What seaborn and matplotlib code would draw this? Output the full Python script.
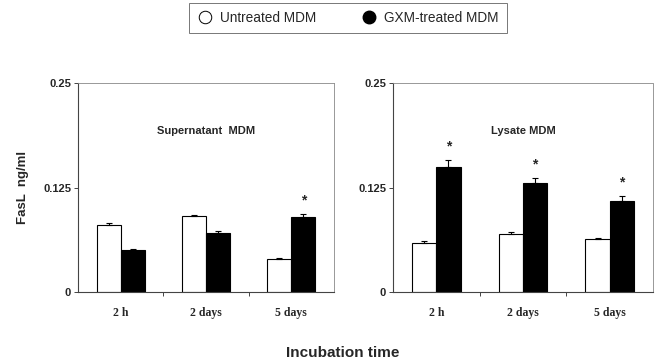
import matplotlib
matplotlib.use("Agg")
import matplotlib.pyplot as plt
import seaborn as sns
import pandas as pd
import numpy as np
from matplotlib.lines import Line2D

sns.set_style("white")
plt.rcParams['font.family'] = ['Liberation Sans', 'DejaVu Sans']

times = ["2 h", "2 days", "5 days"]
groups = ["Untreated MDM", "GXM-treated MDM"]
super_untreated = [0.080, 0.091, 0.040]
super_untreated_err = [0.003, 0.001, 0.001]
super_gxm = [0.050, 0.070, 0.090]
super_gxm_err = [0.002, 0.003, 0.0035]
super_sig = [False, False, True]
lysate_untreated = [0.059, 0.069, 0.063]
lysate_untreated_err = [0.002, 0.003, 0.002]
lysate_gxm = [0.149, 0.130, 0.109]
lysate_gxm_err = [0.0085, 0.0065, 0.006]
lysate_sig = [True, True, True]
panel_titles = ["Supernatant  MDM", "Lysate MDM"]
yticks = [0, 0.125, 0.25]
ytick_labels = ["0", "0.125", "0.25"]

def make_df(u, ue, g, ge):
    rows = []
    for i, t in enumerate(times):
        rows.append(dict(time=t, group=groups[0], val=u[i], err=ue[i]))
        rows.append(dict(time=t, group=groups[1], val=g[i], err=ge[i]))
    return pd.DataFrame(rows)

dfs = [make_df(super_untreated, super_untreated_err, super_gxm, super_gxm_err),
       make_df(lysate_untreated, lysate_untreated_err, lysate_gxm, lysate_gxm_err)]
sigs = [super_sig, lysate_sig]

fig = plt.figure(figsize=(6.61, 3.64), dpi=100)
W, H = 661, 364
axes_px = [(78, 83, 334, 292), (393, 83, 653, 292)]
for k, (x0, y0, x1, y1) in enumerate(axes_px):
    ax = fig.add_axes([x0 / W, 1 - y1 / H, (x1 - x0) / W, (y1 - y0) / H])
    df = dfs[k]
    sns.barplot(data=df, x="time", y="val", hue="group", order=times, hue_order=groups,
                palette={groups[0]: "white", groups[1]: "black"}, edgecolor="black",
                linewidth=0.8, width=0.56, errorbar=None, legend=False, ax=ax)
    for gi, g in enumerate(groups):
        sub = df[df.group == g].set_index("time").loc[times]
        cont = ax.containers[gi]
        for ti, bar in enumerate(cont):
            xc = bar.get_x() + bar.get_width() / 2
            h = bar.get_height()
            e = sub["err"].iloc[ti]
            ax.errorbar(xc, h, yerr=[[0], [e]], fmt="none", ecolor="black",
                        elinewidth=0.8, capsize=2, capthick=0.8)
            if gi == 1 and sigs[k][ti]:
                ax.text(xc, h + e + 0.008, "*", ha="center", va="bottom",
                        fontsize=10, fontweight="bold")
    ax.set_ylim(0, 0.25)
    ax.set_xlim(-0.5, 2.5)
    ax.set_yticks(yticks)
    ax.set_yticklabels(ytick_labels, fontsize=8, fontweight="bold")
    ax.set_xticks([0, 1, 2])
    ax.set_xticklabels(times, fontsize=8.5, fontweight="bold", family="Liberation Serif")
    ax.set_xticks([0.5, 1.5], minor=True)
    ax.tick_params(axis="x", which="major", length=0, pad=11)
    ax.tick_params(axis="x", which="minor", length=3, width=0.6, direction="out", bottom=True)
    ax.tick_params(axis="y", length=3, width=0.6, direction="out", left=True, pad=2)
    ax.set_xlabel("")
    ax.set_ylabel("")
    for s in ["top", "right"]:
        ax.spines[s].set_color("#888888")
        ax.spines[s].set_linewidth(0.6)
        ax.spines[s].set_linestyle((0, (1, 1)))
    for s in ["left", "bottom"]:
        ax.spines[s].set_color("#444444")
        ax.spines[s].set_linewidth(0.8)
    ax.text(0.5, 0.77, panel_titles[k], transform=ax.transAxes, ha="center",
            va="center", fontsize=8, fontweight="bold")

fig.text(23 / W, 1 - 187 / H, "FasL  ng/ml", rotation=90, ha="center", va="center",
         fontsize=9.5, fontweight="bold")
fig.text(343 / W, 1 - 353 / H, "Incubation time", ha="center", va="center",
         fontsize=11, fontweight="bold")

handles = [Line2D([], [], marker="o", linestyle="none", markerfacecolor="white",
                  markeredgecolor="black", markersize=9, markeredgewidth=0.7),
           Line2D([], [], marker="o", linestyle="none", markerfacecolor="black",
                  markeredgecolor="black", markersize=9)]
leg = fig.legend(handles, groups, loc="center", bbox_to_anchor=(348 / W, 1 - 18 / H),
                 ncol=2, frameon=True, fancybox=False, fontsize=9.8, columnspacing=3.3,
                 handletextpad=0.5, borderpad=0.6, handlelength=1.2)
leg.get_frame().set_edgecolor("#555555")
leg.get_frame().set_linewidth(0.7)

fig.savefig("out.png", dpi=100)
